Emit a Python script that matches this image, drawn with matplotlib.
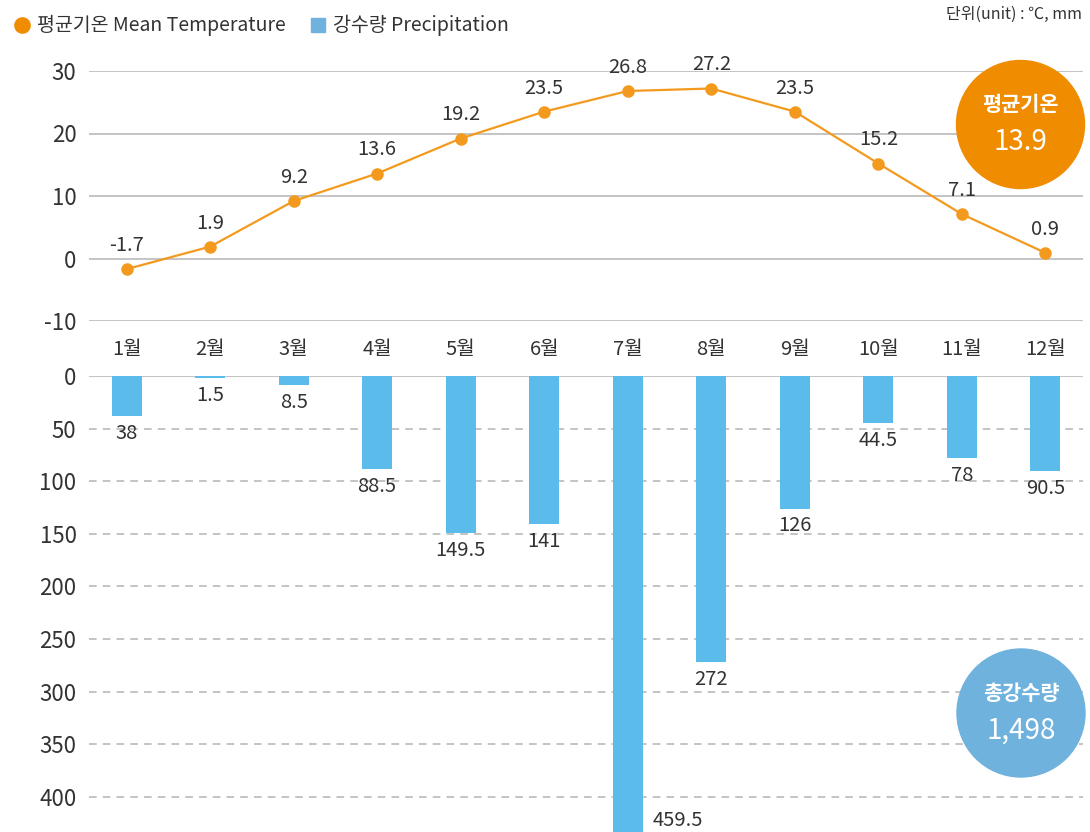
import matplotlib
matplotlib.use("Agg")
import matplotlib.pyplot as plt
from matplotlib.lines import Line2D
from matplotlib.patches import Circle

plt.rcParams["font.family"] = ["Noto Sans CJK KR", "DejaVu Sans"]
plt.rcParams["axes.unicode_minus"] = False

months = ["1월", "2월", "3월", "4월", "5월", "6월", "7월", "8월", "9월", "10월", "11월", "12월"]
temp = [-1.7, 1.9, 9.2, 13.6, 19.2, 23.5, 26.8, 27.2, 23.5, 15.2, 7.1, 0.9]
precip = [38, 1.5, 8.5, 88.5, 149.5, 141, 459.5, 272, 126, 44.5, 78, 90.5]
temp_ticks = [-10, 0, 10, 20, 30]
precip_ticks = [0, 50, 100, 150, 200, 250, 300, 350, 400]
mean_temp = "13.9"
total_precip = "1,498"

ORANGE = "#F39A1E"
ORANGE_C = "#F08C00"
BLUE = "#5BBBEA"
BLUE_C = "#6FB2DD"
TXT = "#333333"
GRID = "#B4B4B4"

fig = plt.figure(figsize=(10.9, 8.32), dpi=100)
x = list(range(len(months)))

# --- temperature panel ---
ax1 = fig.add_axes([89 / 1090, 1 - 321 / 832, 994 / 1090, 250 / 832])
ax1.set_xlim(-0.45, 11.45)
ax1.set_ylim(-10, 30)
ax1.set_yticks(temp_ticks)
ax1.grid(axis="y", color=GRID, lw=1.1)
ax1.set_axisbelow(True)
ax1.plot(x, temp, color=ORANGE, lw=1.6, marker="o", ms=8, clip_on=False, zorder=3)
for xi, t in zip(x, temp):
    ax1.annotate(f"{t}", (xi, t), xytext=(0, 17), textcoords="offset points",
                 ha="center", va="center", fontsize=14.5, color=TXT)
ax1.set_xticks(x)
ax1.set_xticklabels(months, fontsize=14.5, color=TXT)
ax1.tick_params(axis="x", length=0, pad=13)
ax1.tick_params(axis="y", length=0, pad=9, labelsize=16, labelcolor=TXT)
for s in ax1.spines.values():
    s.set_visible(False)

# --- precipitation panel (inverted) ---
ax2 = fig.add_axes([89 / 1090, 0, 994 / 1090, 1 - 376 / 832])
ax2.set_xlim(-0.45, 11.45)
ymax = 456 / 1.052
ax2.set_ylim(ymax, 0)
ax2.set_yticks(precip_ticks)
ax2.grid(axis="y", color=GRID, lw=1.1, linestyle=(0, (5, 4)))
ax2.axhline(0, color="#C4C4C4", lw=1.5, zorder=1)
ax2.set_axisbelow(True)
bw = 0.36
ax2.bar(x, precip, width=bw, color=BLUE, zorder=2)
for xi, p in zip(x, precip):
    lab = f"{p:g}"
    if p > ymax:
        ax2.annotate(lab, (xi + bw / 2, ymax), xytext=(7, 1), textcoords="offset points",
                     ha="left", va="bottom", fontsize=14.5, color=TXT)
    else:
        ax2.annotate(lab, (xi, p), xytext=(0, -5), textcoords="offset points",
                     ha="center", va="top", fontsize=14.5, color=TXT)
ax2.set_xticks([])
ax2.tick_params(axis="y", length=0, pad=9, labelsize=16, labelcolor=TXT)
for s in ax2.spines.values():
    s.set_visible(False)

# --- legend & unit ---
handles = [
    Line2D([], [], marker="o", ls="none", color=ORANGE_C, ms=11),
    Line2D([], [], marker="s", ls="none", color=BLUE_C, ms=10),
]
fig.legend(handles, ["평균기온 Mean Temperature", "강수량 Precipitation"],
           loc="upper left", bbox_to_anchor=(-0.003, 1.003), ncol=2, frameon=False,
           fontsize=14, handlelength=0.8, handletextpad=0.35, columnspacing=1.3,
           labelcolor=TXT)
fig.text(1082 / 1090, 1 - 14 / 832, "단위(unit) : ℃, mm", ha="right", va="center",
         fontsize=11.5, color=TXT)

# --- summary circles ---
for cx, cy, col, title, val in [(1020.5, 124.5, ORANGE_C, "평균기온", mean_temp),
                                 (1021, 713, BLUE_C, "총강수량", total_precip)]:
    fig.patches.append(Circle((cx / 100, (832 - cy) / 100), 0.64, color=col,
                              transform=fig.dpi_scale_trans, zorder=5))
    fig.text(cx / 1090, 1 - (cy - 20) / 832, title, ha="center", va="center",
             fontsize=15, fontweight="bold", color="white", zorder=6)
    fig.text(cx / 1090, 1 - (cy + 18) / 832, val, ha="center", va="center",
             fontsize=20, color="white", zorder=6)

fig.savefig("out.png", dpi=100)
